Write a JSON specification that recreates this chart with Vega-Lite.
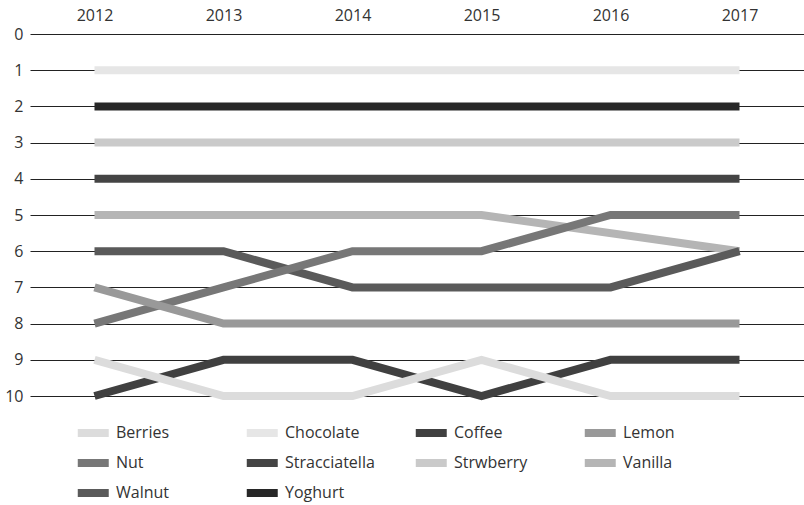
{
  "$schema": "https://vega.github.io/schema/vega-lite/v6.json",
  "width": 774,
  "height": 362,
  "autosize": {"type": "none"},
  "padding": {"left": 30, "top": 34, "right": 0, "bottom": 109},
  "config": {
    "view": {"stroke": null},
    "font": "Open Sans",
    "axis": {"labelFont": "Open Sans", "labelFontSize": 16, "labelColor": "#333333"},
    "legend": {"labelFont": "Open Sans", "labelFontSize": 16, "labelColor": "#333333"}
  },
  "data": {
    "values": [
      {"flavor": "Chocolate", "year": "2012", "rank": 1},
      {"flavor": "Chocolate", "year": "2013", "rank": 1},
      {"flavor": "Chocolate", "year": "2014", "rank": 1},
      {"flavor": "Chocolate", "year": "2015", "rank": 1},
      {"flavor": "Chocolate", "year": "2016", "rank": 1},
      {"flavor": "Chocolate", "year": "2017", "rank": 1},
      {"flavor": "Yoghurt", "year": "2012", "rank": 2},
      {"flavor": "Yoghurt", "year": "2013", "rank": 2},
      {"flavor": "Yoghurt", "year": "2014", "rank": 2},
      {"flavor": "Yoghurt", "year": "2015", "rank": 2},
      {"flavor": "Yoghurt", "year": "2016", "rank": 2},
      {"flavor": "Yoghurt", "year": "2017", "rank": 2},
      {"flavor": "Strwberry", "year": "2012", "rank": 3},
      {"flavor": "Strwberry", "year": "2013", "rank": 3},
      {"flavor": "Strwberry", "year": "2014", "rank": 3},
      {"flavor": "Strwberry", "year": "2015", "rank": 3},
      {"flavor": "Strwberry", "year": "2016", "rank": 3},
      {"flavor": "Strwberry", "year": "2017", "rank": 3},
      {"flavor": "Stracciatella", "year": "2012", "rank": 4},
      {"flavor": "Stracciatella", "year": "2013", "rank": 4},
      {"flavor": "Stracciatella", "year": "2014", "rank": 4},
      {"flavor": "Stracciatella", "year": "2015", "rank": 4},
      {"flavor": "Stracciatella", "year": "2016", "rank": 4},
      {"flavor": "Stracciatella", "year": "2017", "rank": 4},
      {"flavor": "Vanilla", "year": "2012", "rank": 5},
      {"flavor": "Vanilla", "year": "2013", "rank": 5},
      {"flavor": "Vanilla", "year": "2014", "rank": 5},
      {"flavor": "Vanilla", "year": "2015", "rank": 5},
      {"flavor": "Vanilla", "year": "2017", "rank": 6},
      {"flavor": "Walnut", "year": "2012", "rank": 6},
      {"flavor": "Walnut", "year": "2013", "rank": 6},
      {"flavor": "Walnut", "year": "2014", "rank": 7},
      {"flavor": "Walnut", "year": "2015", "rank": 7},
      {"flavor": "Walnut", "year": "2016", "rank": 7},
      {"flavor": "Walnut", "year": "2017", "rank": 6},
      {"flavor": "Nut", "year": "2012", "rank": 8},
      {"flavor": "Nut", "year": "2013", "rank": 7},
      {"flavor": "Nut", "year": "2014", "rank": 6},
      {"flavor": "Nut", "year": "2015", "rank": 6},
      {"flavor": "Nut", "year": "2016", "rank": 5},
      {"flavor": "Nut", "year": "2017", "rank": 5},
      {"flavor": "Lemon", "year": "2012", "rank": 7},
      {"flavor": "Lemon", "year": "2013", "rank": 8},
      {"flavor": "Lemon", "year": "2014", "rank": 8},
      {"flavor": "Lemon", "year": "2015", "rank": 8},
      {"flavor": "Lemon", "year": "2016", "rank": 8},
      {"flavor": "Lemon", "year": "2017", "rank": 8},
      {"flavor": "Coffee", "year": "2012", "rank": 10},
      {"flavor": "Coffee", "year": "2013", "rank": 9},
      {"flavor": "Coffee", "year": "2014", "rank": 9},
      {"flavor": "Coffee", "year": "2015", "rank": 10},
      {"flavor": "Coffee", "year": "2016", "rank": 9},
      {"flavor": "Coffee", "year": "2017", "rank": 9},
      {"flavor": "Berries", "year": "2012", "rank": 9},
      {"flavor": "Berries", "year": "2013", "rank": 10},
      {"flavor": "Berries", "year": "2014", "rank": 10},
      {"flavor": "Berries", "year": "2015", "rank": 9},
      {"flavor": "Berries", "year": "2016", "rank": 10},
      {"flavor": "Berries", "year": "2017", "rank": 10}
    ]
  },
  "mark": {"type": "line", "strokeWidth": 8, "strokeCap": "butt"},
  "encoding": {
    "x": {
      "field": "year",
      "type": "ordinal",
      "scale": {"type": "point", "padding": 0.5},
      "axis": {
        "orient": "top",
        "title": null,
        "labelAngle": 0,
        "ticks": false,
        "domain": false,
        "grid": false,
        "labelPadding": 11
      }
    },
    "y": {
      "field": "rank",
      "type": "quantitative",
      "scale": {"domain": [0, 10], "reverse": true, "nice": false, "zero": false},
      "axis": {
        "title": null,
        "values": [0, 1, 2, 3, 4, 5, 6, 7, 8, 9, 10],
        "ticks": false,
        "domain": false,
        "grid": true,
        "gridColor": "#222222",
        "gridWidth": 1,
        "gridOpacity": 1,
        "labelPadding": 7
      }
    },
    "color": {
      "field": "flavor",
      "type": "nominal",
      "scale": {
        "domain": ["Berries", "Chocolate", "Coffee", "Lemon", "Nut", "Stracciatella", "Strwberry", "Vanilla", "Walnut", "Yoghurt"],
        "range": ["#dcdcdc", "#e6e6e6", "#404040", "#999999", "#777777", "#444444", "#cacaca", "#b5b5b5", "#5a5a5a", "#272727"]
      },
      "legend": {
        "title": null,
        "orient": "none",
        "legendX": 59,
        "legendY": 387,
        "direction": "horizontal",
        "columns": 4,
        "gridAlign": "all",
        "symbolType": "M-3,0H1",
        "symbolStrokeWidth": 8,
        "symbolSize": 240,
        "labelOffset": 3,
        "columnPadding": 24,
        "rowPadding": -2
      }
    }
  }
}
